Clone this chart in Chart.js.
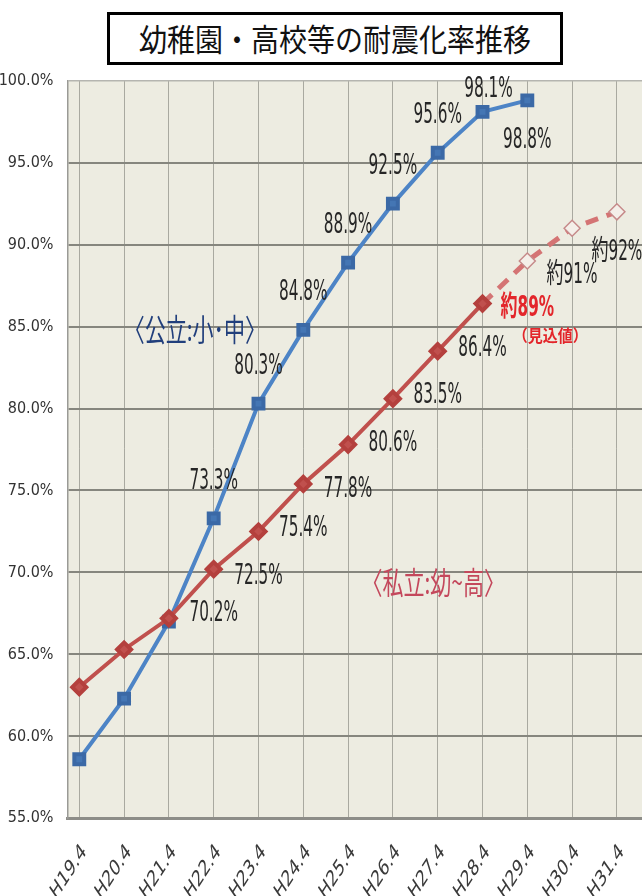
<!DOCTYPE html>
<html lang="ja">
<head>
<meta charset="UTF-8">
<title>幼稚園・高校等の耐震化率推移</title>
<script src="https://cdn.jsdelivr.net/npm/chart.js@4.4.0/dist/chart.umd.min.js"></script>
<style>
  html, body { margin: 0; padding: 0; background: #fff; overflow: hidden; }
  #wrap { position: relative; width: 642px; height: 896px; }
  #chart { position: absolute; left: 0; top: 0; }
  #title {
    position: absolute; left: 107px; top: 12px; width: 456px; height: 53px;
    box-sizing: border-box; border: 3px solid #000; background: #fff;
    font-family: "Noto Sans CJK JP", sans-serif; font-size: 28px; color: #111;
    text-align: center; line-height: 46px;
  }
  #title span { display: inline-block; transform: scaleY(1.1); }
</style>
</head>
<body>
<div id="wrap">
  <canvas id="chart" width="642" height="896"></canvas>
  <div id="title"><span>幼稚園・高校等の耐震化率推移</span></div>
</div>

<script>
// 年度（各年4月1日時点）
const years = ['H19.4', 'H20.4', 'H21.4', 'H22.4', 'H23.4', 'H24.4', 'H25.4',
               'H26.4', 'H27.4', 'H28.4', 'H29.4', 'H30.4', 'H31.4'];

// 公立：小・中 耐震化率（%）
const publicRate = [58.6, 62.3, 67.0, 73.3, 80.3, 84.8, 88.9, 92.5, 95.6, 98.1, 98.8];

// 私立：幼～高 耐震化率（%）
const privateRate = [63.0, 65.3, 67.2, 70.2, 72.5, 75.4, 77.8, 80.6, 83.5, 86.4];

// 私立の見込値（H28.4 の実績から先）
const forecastYears = ['H28.4', 'H29.4', 'H30.4', 'H31.4'];
const privateForecast = [86.4, 89, 91, 92];

// 数値ラベルを付け始める年度
const tagFrom = 'H22.4';

const NARROW = "'Liberation Sans Narrow', 'DejaVu Sans Condensed', 'Noto Sans CJK JP', sans-serif";
const CJK = "'Noto Sans CJK JP', sans-serif";

const pct = v => v.toFixed(1) + '%';
const xy = (labels, values) => values.map((v, i) => ({ x: years.indexOf(labels[i]), y: v }));

// 縦長の文字を描く（細長い字形に合わせて縦に伸ばす）
function tallText(ctx, text, x, y, font, color, stretch, angle) {
  ctx.save();
  ctx.translate(x, y);
  ctx.scale(1, stretch);
  if (angle) ctx.rotate(angle);
  ctx.font = font;
  ctx.fillStyle = color;
  ctx.textAlign = angle ? 'right' : 'center';
  ctx.textBaseline = 'middle';
  ctx.fillText(text, 0, 0);
  ctx.restore();
}

// プロット領域の背景
const plotBg = {
  id: 'plotBg',
  beforeDraw(chart) {
    const { ctx, chartArea: a } = chart;
    ctx.save();
    ctx.fillStyle = '#edece1';
    ctx.fillRect(a.left, a.top, a.right - a.left, a.bottom - a.top);
    ctx.restore();
  }
};

// 横軸の年度ラベル（斜め）
const yearLabels = {
  id: 'yearLabels',
  afterDraw(chart) {
    const { ctx, scales: { x } } = chart;
    x.ticks.forEach(t => {
      const name = years[t.value];
      if (!name) return;
      tallText(ctx, name, x.getPixelForValue(t.value) + 5, x.top + 30,
               '15px "DejaVu Sans", sans-serif', '#3a3a3a', 1.5, -0.8);
    });
  }
};

// 各点の数値ラベル
const pointTags = {
  id: 'pointTags',
  afterDatasetsDraw(chart) {
    const ctx = chart.ctx;
    const top = chart.chartArea.top;
    chart.data.datasets.forEach((ds, di) => {
      if (!ds.tag) return;
      chart.getDatasetMeta(di).data.forEach((pt, i) => {
        const t = ds.tag(i, ds.data[i].y);
        if (!t) return;
        const y = Math.max(pt.y + t.dy, top + 9);
        tallText(ctx, t.text, pt.x + (t.dx || 0), y, t.font || '17px ' + NARROW, t.color || '#262626', 1.65);
        if (t.note) {
          tallText(ctx, t.note.text, pt.x + t.note.dx, pt.y + t.note.dy, t.note.font, t.color, 1.1);
        }
      });
    });
  }
};

// 系列名の注記
const seriesNotes = {
  id: 'seriesNotes',
  afterDatasetsDraw(chart) {
    const { ctx, scales: { x, y } } = chart;
    tallText(ctx, '〈公立:小･中〉', x.getPixelForValue(2.58), y.getPixelForValue(84.8),
             '21px ' + CJK, '#213f7c', 1.45);
    tallText(ctx, '〈私立:幼~高〉', x.getPixelForValue(7.9), y.getPixelForValue(69.4),
             '21px ' + CJK, '#c4485c', 1.45);
  }
};

const first = years.indexOf(tagFrom);

new Chart(document.getElementById('chart'), {
  type: 'line',
  data: {
    datasets: [
      {
        label: '私立：幼～高',
        data: xy(years, privateRate),
        borderColor: '#c0504d',
        borderWidth: 4,
        pointStyle: 'rectRot',
        pointRadius: 7,
        pointBackgroundColor: '#c0504d',
        pointBorderColor: '#b4403d',
        order: 0,
        tag: (i, v) => i >= first ? { text: pct(v), dy: 45 } : null
      },
      {
        label: '公立：小・中',
        data: xy(years, publicRate),
        borderColor: '#4d84c6',
        borderWidth: 4,
        pointStyle: 'rect',
        pointRadius: 7,
        pointBackgroundColor: '#4476b4',
        pointBorderColor: '#3b69a6',
        order: 1,
        tag: (i, v) => {
          if (i < first) return null;
          const last = i === publicRate.length - 1;
          return { text: pct(v), dy: last ? 40 : -37, dx: !last && v > 98 ? 6 : 0 };
        }
      },
      {
        label: '私立：見込値',
        data: xy(forecastYears, privateForecast),
        borderColor: '#d47474',
        borderWidth: 5,
        borderDash: [13, 9],
        pointStyle: 'rectRot',
        pointRadius: [0, 8, 8, 8],
        pointBackgroundColor: '#f4efe9',
        pointBorderColor: '#c68a8a',
        pointBorderWidth: 1.5,
        order: 2,
        tag: (i, v) => {
          if (i === 0) return null;
          if (i === 1) {
            return {
              text: '約' + v + '%', dy: 48, font: 'bold 17px ' + NARROW, color: '#e3262b',
              note: { text: '（見込値）', dx: 23, dy: 75, font: 'bold 15px ' + CJK }
            };
          }
          return { text: '約' + v + '%', dy: i === 3 ? 41 : 47 };
        }
      }
    ]
  },
  options: {
    responsive: false,
    devicePixelRatio: 1,
    animation: false,
    layout: { autoPadding: false, padding: { top: 80.7, left: 0, right: 0, bottom: 0 } },
    plugins: { legend: { display: false }, tooltip: { enabled: false } },
    elements: { line: { tension: 0 } },
    scales: {
      x: {
        type: 'linear',
        bounds: 'data',
        min: -0.263,
        max: 12.56,
        afterFit: s => { s.height = 77.7; },
        // 目盛りは各年度の位置だけ
        afterBuildTicks: s => { s.ticks = years.map((_, i) => ({ value: i })); },
        grid: { color: '#a9a9a0', lineWidth: 1, drawTicks: false },
        border: { color: '#8d8d88', width: 3 },
        ticks: { display: false }
      },
      y: {
        min: 55,
        max: 100,
        afterFit: s => { s.width = 67.5; },
        grid: {
          drawTicks: false,
          color: c => c.tick.value === 100 ? '#b5b5b0' : '#86867e',
          lineWidth: c => c.tick.value === 100 ? 1.5 : 2
        },
        border: { color: '#9a9a96', width: 1.5 },
        ticks: {
          stepSize: 5,
          padding: 14,
          color: '#333',
          font: { family: NARROW, size: 16 },
          callback: v => pct(v)
        }
      }
    }
  },
  plugins: [plotBg, yearLabels, pointTags, seriesNotes]
});
</script>
</body>
</html>
